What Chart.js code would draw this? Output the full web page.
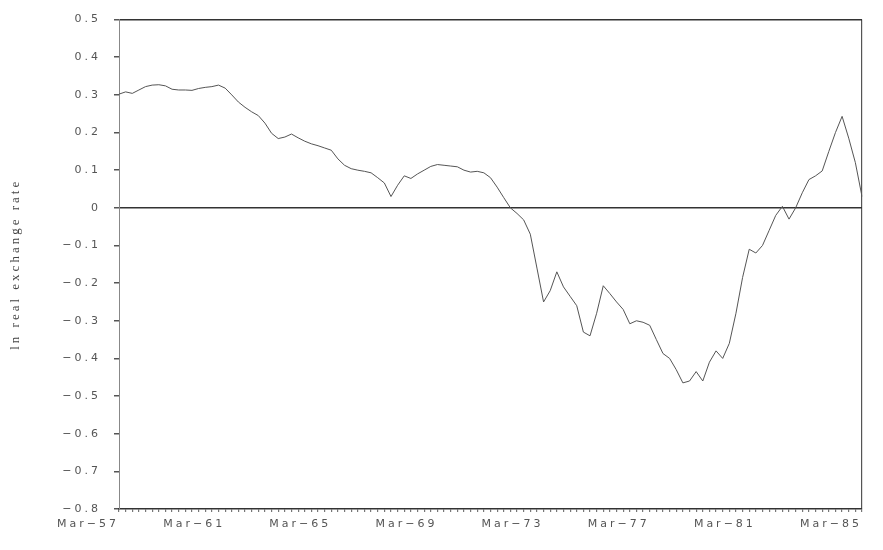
<!DOCTYPE html>
<html>
<head>
<meta charset="utf-8">
<script src="https://cdn.jsdelivr.net/npm/chart.js@4"></script>
<style>
  html, body { margin: 0; padding: 0; background: #fff; }
  #wrap { width: 883px; height: 550px; }
</style>
</head>
<body>
<div id="wrap"><canvas id="myChart" width="883" height="550"></canvas></div>
<script>
// quarterly, Mar-57 .. Mar-85
const years = [57, 58, 59, 60, 61, 62, 63, 64, 65, 66, 67, 68, 69, 70, 71, 72, 73, 74, 75, 76, 77, 78, 79, 80, 81, 82, 83, 84, 85];
const months = ['Mar', 'Jun', 'Sep', 'Dec'];
const shownLabels = ['Mar-57', 'Mar-61', 'Mar-65', 'Mar-69', 'Mar-73', 'Mar-77', 'Mar-81', 'Mar-85'];

const rate = [
    0.302, 0.308, 0.304, 0.313, 0.322, 0.326, 0.327, 0.324, 0.315, 0.313,
    0.313, 0.312, 0.317, 0.320, 0.322, 0.326, 0.318, 0.300, 0.281, 0.267,
    0.255, 0.245, 0.225, 0.198, 0.184, 0.188, 0.196, 0.186, 0.177, 0.170,
    0.165, 0.159, 0.153, 0.130, 0.113, 0.104, 0.100, 0.097, 0.093, 0.080,
    0.066, 0.030, 0.060, 0.085, 0.078, 0.090, 0.100, 0.110, 0.115, 0.113,
    0.111, 0.109, 0.100, 0.095, 0.097, 0.093, 0.080, 0.055, 0.027, 0.000,
    -0.015, -0.032, -0.070, -0.160, -0.250, -0.220, -0.170, -0.210, -0.235, -0.260,
    -0.330, -0.340, -0.280, -0.207, -0.228, -0.250, -0.270, -0.308, -0.300, -0.304,
    -0.312, -0.350, -0.387, -0.400, -0.430, -0.465, -0.460, -0.435, -0.460, -0.410,
    -0.380, -0.400, -0.360, -0.280, -0.185, -0.110, -0.120, -0.100, -0.060, -0.020,
    0.004, -0.030, 0.000, 0.040, 0.075, 0.085, 0.098, 0.150, 0.200, 0.243,
    0.185, 0.120, 0.030
];

const labels = [];
years.forEach(function (y) {
    months.forEach(function (m) {
        if (labels.length < rate.length) labels.push(m + '-' + y);
    });
});

// wide plotter-style lettering
const spacing = {
    id: 'spacing',
    beforeLayout: function (chart) { chart.ctx.letterSpacing = '3px'; },
    beforeDraw: function (chart) { chart.ctx.letterSpacing = '3px'; }
};

const ctx = document.getElementById('myChart').getContext('2d');
chart = new Chart(ctx, {
    type: 'line',
    data: {
        labels: labels,
        datasets: [{
            label: 'ln real exchange rate',
            data: rate,
            borderColor: '#555',
            borderWidth: 1,
            pointRadius: 0,
            tension: 0,
            fill: false
        }]
    },
    plugins: [spacing],
    options: {
        responsive: false,
        animation: false,
        layout: { padding: { top: 14, right: 21, left: 0, bottom: 0 } },
        plugins: {
            legend: { display: false },
            tooltip: { enabled: false }
        },
        scales: {
            x: {
                offset: false,
                border: { display: true, color: '#333', width: 1.5 },
                grid: {
                    drawOnChartArea: true,
                    color: function (c) { return c.index === rate.length - 1 ? '#555' : 'rgba(0,0,0,0)'; },
                    lineWidth: 1.2,
                    tickColor: '#777',
                    tickLength: 3
                },
                ticks: {
                    autoSkip: false,
                    maxRotation: 0,
                    minRotation: 0,
                    align: 'end',
                    padding: 6,
                    color: '#555',
                    font: { family: 'DejaVu Sans', size: 11 },
                    callback: function (v, i) {
                        const l = labels[i];
                        return shownLabels.indexOf(l) >= 0 ? l.replace('-', '\u2212') : '';
                    }
                },
                afterFit: function (scale) { scale.height = 41; }
            },
            y: {
                min: -0.8,
                max: 0.5,
                border: { display: true, color: '#888', width: 1 },
                grid: {
                    color: function (c) {
                        const v = Math.round(c.tick.value * 10);
                        return (v === 0 || v === 5) ? '#333' : 'rgba(0,0,0,0)';
                    },
                    lineWidth: 1.5,
                    tickColor: '#555',
                    tickLength: 5
                },
                ticks: {
                    stepSize: 0.1,
                    padding: 13,
                    color: '#555',
                    font: { family: 'DejaVu Sans', size: 11 },
                    callback: function (v) {
                        const r = Math.round(v * 10) / 10;
                        if (r === 0) return '0';
                        return r.toFixed(1).replace('-', '\u2212');
                    }
                },
                title: {
                    display: true,
                    text: 'ln real exchange rate',
                    color: '#444',
                    padding: { top: 8, bottom: 0 },
                    font: { family: 'Liberation Serif', size: 13 }
                },
                afterFit: function (scale) { scale.width = 119; }
            }
        }
    }
});
</script>
</body>
</html>
